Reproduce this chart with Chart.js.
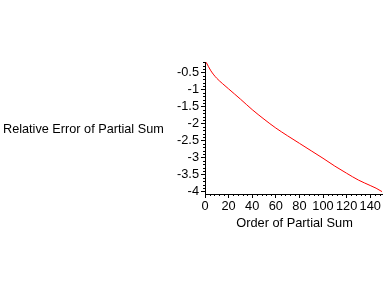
<!DOCTYPE html>
<html>
<head>
<meta charset="utf-8">
<script src="https://cdn.jsdelivr.net/npm/chart.js@4"></script>
<style>
    html, body { margin: 0; padding: 0; background: #ffffff; }
    #wrap { width: 388px; height: 288px; }
</style>
</head>
<body>
<div id="wrap"><canvas id="chart" width="388" height="288"></canvas></div>
<script>
    // values
    const orders = [1, 5, 10, 15, 20, 25, 30, 40, 50, 60, 70, 80, 90, 100, 110, 120, 130, 140, 145, 150];
    const relErrors = [-0.2, -0.45, -0.67, -0.83, -0.98, -1.13, -1.28, -1.59, -1.87, -2.13, -2.36, -2.58, -2.8, -3.02, -3.25, -3.46, -3.66, -3.82, -3.9, -4.0];
    const xTickValues = [0, 20, 40, 60, 80, 100, 120, 140];
    const yTickValues = [-0.5, -1, -1.5, -2, -2.5, -3, -3.5, -4];

    const xTitle = 'Order of Partial Sum';
    const yTitle = 'Relative Error of Partial Sum';
    const fontFamily = '"Liberation Sans", Arial, sans-serif';

    // small ticks between the labelled ones, and the two axis titles
    const axisExtras = {
        id: 'axisExtras',
        afterDraw(chart) {
            const ctx = chart.ctx;
            const area = chart.chartArea;
            const xs = chart.scales.x;
            const ys = chart.scales.y;
            ctx.save();
            ctx.strokeStyle = '#000000';
            ctx.lineWidth = 1;
            ctx.beginPath();
            for (let v = 0; v <= 148; v += 4) {
                if (v % 20 === 0) continue;
                const px = Math.round(xs.getPixelForValue(v)) + 0.5;
                ctx.moveTo(px, area.bottom);
                ctx.lineTo(px, area.bottom + 2);
            }
            for (let i = 2; i <= 40; i++) {
                if (i % 5 === 0) continue;
                const py = Math.round(ys.getPixelForValue(-i / 10)) + 0.5;
                ctx.moveTo(area.left, py);
                ctx.lineTo(area.left - 2, py);
            }
            ctx.stroke();

            ctx.fillStyle = '#000000';
            ctx.font = '12.7px ' + fontFamily;
            ctx.textBaseline = 'middle';
            ctx.textAlign = 'left';
            ctx.fillText(yTitle, 3, (area.top + area.bottom) / 2 + 1);
            ctx.font = '12.8px ' + fontFamily;
            ctx.textAlign = 'center';
            ctx.fillText(xTitle, (area.left + area.right) / 2 + 1, 223);
            ctx.restore();
        }
    };

    const points = orders.map((n, i) => ({ x: n, y: relErrors[i] }));

    new Chart(document.getElementById('chart'), {
        type: 'line',
        data: {
            datasets: [{
                data: points,
                borderColor: '#ff0000',
                borderWidth: 1,
                pointRadius: 0,
                cubicInterpolationMode: 'monotone',
                fill: false
            }]
        },
        options: {
            responsive: false,
            animation: false,
            events: [],
            layout: { padding: { left: 0, top: 62, right: 6, bottom: 0 } },
            plugins: {
                legend: { display: false },
                tooltip: { enabled: false }
            },
            scales: {
                x: {
                    type: 'linear',
                    position: 'bottom',
                    min: 0,
                    max: 150,
                    afterBuildTicks: scale => { scale.ticks = xTickValues.map(v => ({ value: v })); },
                    afterFit: scale => { scale.height = 94; },
                    grid: { display: true, drawOnChartArea: false, drawTicks: true, tickLength: 4, color: '#000000' },
                    border: { display: true, color: '#000000', width: 1 },
                    ticks: {
                        color: '#000000',
                        padding: 1,
                        maxRotation: 0,
                        autoSkip: false,
                        font: { family: fontFamily, size: 12.8 },
                        callback: v => String(v)
                    }
                },
                y: {
                    type: 'linear',
                    position: 'left',
                    min: -4.07,
                    max: -0.19,
                    afterBuildTicks: scale => { scale.ticks = yTickValues.map(v => ({ value: v })); },
                    afterFit: scale => { scale.width = 205; },
                    grid: { display: true, drawOnChartArea: false, drawTicks: true, tickLength: 4, color: '#000000' },
                    border: { display: true, color: '#000000', width: 1 },
                    ticks: {
                        color: '#000000',
                        padding: 2,
                        autoSkip: false,
                        font: { family: fontFamily, size: 12.8 },
                        callback: v => String(v)
                    }
                }
            }
        },
        plugins: [axisExtras]
    });
</script>
</body>
</html>
